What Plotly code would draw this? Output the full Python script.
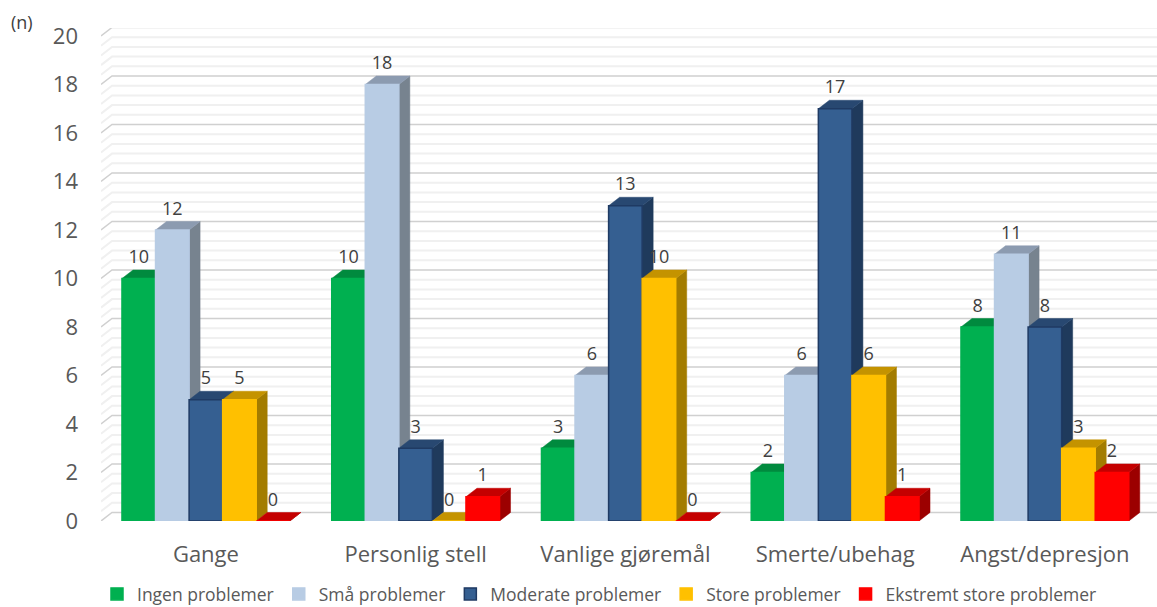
import numpy as np
import plotly.graph_objects as go

categories = ["Gange", "Personlig stell", "Vanlige gjøremål", "Smerte/ubehag", "Angst/depresjon"]
series_names = ["Ingen problemer", "Små problemer", "Moderate problemer", "Store problemer", "Ekstremt store problemer"]
ingen = [10, 10, 3, 2, 8]
smaa = [12, 18, 6, 6, 11]
moderate = [5, 3, 13, 17, 8]
store = [5, 0, 10, 6, 3]
ekstremt = [0, 1, 0, 1, 2]
all_values = [ingen, smaa, moderate, store, ekstremt]

front_colors = ["#00B050", "#B8CCE4", "#355F91", "#FFC000", "#FF0000"]
edge_colors = ["#00B050", "#B8CCE4", "#1F3A63", "#FFC000", "#FF0000"]
top_colors = ["#008A3E", "#8C9BB0", "#284871", "#C49300", "#C40000"]
side_colors = ["#00753A", "#77838F", "#1F3A5C", "#A37C00", "#9C0000"]
TEXT = "#595959"
FONT = "Open Sans, sans-serif"

# Axis geometry, in pixels of the page
W, H = 1157, 607
LEFT, RIGHT, TOP, BOTTOM = 101, 1157, 28, 521
GROUP_PX = 209.75
UNIT_PX = 24.25
x_range = [-0.5, -0.5 + (RIGHT - LEFT) / GROUP_PX]
y_range = [0, (BOTTOM - TOP) / UNIT_PX]

# Oblique projection of the depth direction, in axis units
DX = 11 / GROUP_PX
DY = 8.5 / UNIT_PX
BAR_W = 0.16
WALL_END = x_range[1]

fig = go.Figure()


def grid_trace(levels, color, width):
    xs, ys = [], []
    for v in levels:
        xs += [-0.5, -0.5 + DX, WALL_END, None]
        ys += [v, v + DY, v + DY, None]
    return go.Scatter(x=xs, y=ys, mode="lines", line=dict(color=color, width=width),
                      hoverinfo="skip", showlegend=False)


minor_levels = [v for v in np.arange(0, 20.01, 0.4) if abs(v / 2 - round(v / 2)) > 1e-6]
major_levels = list(range(0, 21, 2))
fig.add_trace(grid_trace(minor_levels, "#F0F0F0", 2))
fig.add_trace(grid_trace(major_levels, "#D0D0D0", 1.5))

# Depth faces sit on the base axes; the front faces are bars on an overlay above them
for s, values in enumerate(all_values):
    top_x, top_y, side_x, side_y = [], [], [], []
    for i, v in enumerate(values):
        x0 = i + (s - 2.5) * BAR_W
        x1 = x0 + BAR_W
        top_x += [x0, x0 + DX, x1 + DX, x1, x0, None]
        top_y += [v, v + DY, v + DY, v, v, None]
        side_x += [x1, x1 + DX, x1 + DX, x1, x1, None]
        side_y += [0, DY, v + DY, v, 0, None]
    fig.add_trace(go.Scatter(x=side_x, y=side_y, mode="lines", fill="toself", fillcolor=side_colors[s],
                             line=dict(color=side_colors[s], width=0.5), hoverinfo="skip", showlegend=False))
    fig.add_trace(go.Scatter(x=top_x, y=top_y, mode="lines", fill="toself", fillcolor=top_colors[s],
                             line=dict(color=top_colors[s], width=0.5), hoverinfo="skip", showlegend=False))

for s, values in enumerate(all_values):
    fig.add_trace(go.Bar(x=list(range(len(categories))), y=values, name=series_names[s],
                         marker=dict(color=front_colors[s], line=dict(color=edge_colors[s], width=1.5)),
                         xaxis="x2", yaxis="y2"))

# Value labels float just above the top face of each bar
LABEL_LIFT = 20 / UNIT_PX
label_x, label_y, label_text = [], [], []
for s, values in enumerate(all_values):
    for i, v in enumerate(values):
        label_x.append(i + (s - 2) * BAR_W)
        label_y.append(v + LABEL_LIFT)
        label_text.append(str(v))
fig.add_trace(go.Scatter(x=label_x, y=label_y, mode="text", text=label_text,
                         textposition="middle center",
                         textfont=dict(family=FONT, size=18, color="#404040"),
                         xaxis="x2", yaxis="y2", hoverinfo="skip", showlegend=False, cliponaxis=False))

x_domain = [LEFT / W, RIGHT / W]
y_domain = [1 - BOTTOM / H, 1 - TOP / H]
fig.update_layout(
    width=W, height=H, autosize=False,
    margin=dict(l=0, r=0, t=0, b=0, autoexpand=False),
    paper_bgcolor="white", plot_bgcolor="white",
    barmode="group", bargap=0.2, bargroupgap=0,
    font=dict(family=FONT, color=TEXT),
    xaxis=dict(domain=x_domain, range=x_range, tickmode="array", tickvals=list(range(len(categories))),
               ticktext=categories, showgrid=False, zeroline=False, showline=False, ticks="",
               ticklabelstandoff=18, tickfont=dict(family=FONT, size=22, color=TEXT)),
    yaxis=dict(domain=y_domain, range=y_range, tickmode="array", tickvals=major_levels,
               showgrid=False, zeroline=False, showline=False, ticks="",
               ticklabelstandoff=22, tickfont=dict(family=FONT, size=22, color=TEXT)),
    xaxis2=dict(domain=x_domain, range=x_range, overlaying="x", anchor="y2", visible=False),
    yaxis2=dict(domain=y_domain, range=y_range, overlaying="y", anchor="x2", visible=False),
    legend=dict(orientation="h", x=97 / W, xanchor="left", y=1 - 576 / H, yanchor="top",
                font=dict(family=FONT, size=17.5, color=TEXT), traceorder="normal",
                bgcolor="rgba(0,0,0,0)"),
    annotations=[dict(text="(n)", x=22 / W, y=1 - 22 / H, xref="paper", yref="paper",
                      xanchor="center", yanchor="middle", showarrow=False,
                      font=dict(family=FONT, size=18, color="#404040"))],
)

fig.write_html("out.html")
